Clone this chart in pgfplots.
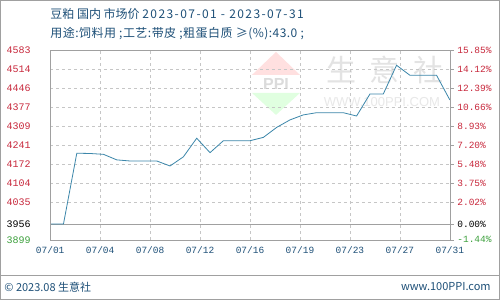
\documentclass[border=0pt]{standalone}
\usepackage{fontspec}
\setmainfont{Liberation Sans}
\newfontfamily\cjk{Noto Sans CJK SC}
\newfontfamily\cjkw[LetterSpace=12]{Noto Sans CJK SC}
\newfontfamily\cjkv[LetterSpace=4]{Noto Sans CJK SC}
\newfontfamily\mono{Liberation Mono}
\usepackage{pgfplots}
\pgfplotsset{compat=1.18}
\definecolor{tred}{RGB}{200,40,60}
\definecolor{tgreen}{RGB}{60,160,60}
\definecolor{tblue}{RGB}{30,80,120}
\definecolor{lineblue}{RGB}{60,135,170}
\definecolor{frame}{RGB}{160,160,160}
\begin{document}
\begin{tikzpicture}
\fill[white] (0pt,0pt) rectangle (500pt,300pt);
\draw[frame] (0.5pt,0.5pt) rectangle (499.5pt,299.5pt);
\draw[frame] (0pt,25pt) -- (500pt,25pt);
% title
\node[anchor=west,inner sep=0,text=tblue,font=\cjk\fontsize{12}{14}\selectfont] at (50pt,286pt) {豆粕 国内 市场价 {\cjkw 2023-07-01 - 2023-07-31}};
\node[anchor=west,inner sep=0,text=tblue,font=\cjkv\fontsize{12}{14}\selectfont] at (50pt,266pt) {用途:饲料用 ;工艺:带皮 ;粗蛋白质 ≥(\%):43.0 ;};
% footer
\node[anchor=west,inner sep=0,text=tblue,font=\cjk\fontsize{11}{13}\selectfont] at (4pt,13pt) {© 2023.08 生意社};
\node[anchor=east,inner sep=0,text=tblue,font=\cjk\fontsize{11}{13}\selectfont] at (491pt,13pt) {www.100PPI.com};
% watermark
\fill[red!12] (252pt,225pt) -- (276pt,248pt) -- (300pt,225pt) -- cycle;
\fill[green!12] (252pt,207pt) -- (300pt,207pt) -- (276pt,185pt) -- cycle;
\node[anchor=center,inner sep=0,text=gray!28,font=\bfseries\fontsize{16}{18}\selectfont] at (276pt,216pt) {PPI};
\node[anchor=center,inner sep=0,text=gray!22,font=\cjk\fontsize{30}{32}\selectfont] at (385pt,230pt) {生\ \ 意\ \ 社};
\node[anchor=center,inner sep=0,text=gray!18,font=\fontsize{13}{15}\selectfont] at (382pt,198pt) {WWW.100PPI.COM};
\begin{axis}[
  at={(50pt,60pt)}, anchor=south west,
  width=400pt, height=190pt, scale only axis,
  xmin=1, xmax=31, ymin=3899, ymax=4583,
  axis line style={frame},
  xtick={1,4.75,8.5,12.25,16,19.75,23.5,27.25,31},
  xticklabels={07/01,07/04,07/08,07/12,07/16,07/19,07/23,07/27,07/31},
  xticklabel style={text=tblue,font=\mono\fontsize{9.5}{11}\selectfont,yshift=-3pt},
  ytick={3899,3956,4035,4104,4172,4241,4309,4377,4446,4514,4583},
  yticklabels={\textcolor{tgreen}{3899},\textcolor{black}{3956},\textcolor{tred}{4035},\textcolor{tred}{4104},\textcolor{tred}{4172},\textcolor{tred}{4241},\textcolor{tred}{4309},\textcolor{tred}{4377},\textcolor{tred}{4446},\textcolor{tred}{4514},\textcolor{tred}{4583}},
  yticklabel style={anchor=west,xshift=-47pt,font=\mono\fontsize{10}{12}\selectfont},
  major tick length=0pt,
  grid=major,
  grid style={dashed,gray!45,line width=0.5pt},
  axis y line*=left,
  axis x line*=bottom,
  clip=true,
]
\addplot[frame,line width=0.8pt,forget plot] coordinates {(1,3956) (31,3956)};
\addplot[lineblue,line width=0.8pt,mark=none] coordinates {
(1,3956) (2,3956) (3,4211) (4,4210) (5,4207) (6,4187) (7,4183) (8,4183)
(9,4183) (10,4165) (11,4198) (12,4265) (13,4213) (14,4256) (15,4256) (16,4256)
(17,4268) (18,4304) (19,4331) (20,4349) (21,4357) (22,4357) (23,4357) (24,4345)
(25,4424) (26,4424) (27,4528) (28,4492) (29,4492) (30,4492) (31,4403)};
\end{axis}
\begin{axis}[
  at={(50pt,60pt)}, anchor=south west,
  width=400pt, height=190pt, scale only axis,
  xmin=1, xmax=31, ymin=3899, ymax=4583,
  axis x line=none,
  axis y line*=right,
  axis line style={frame},
  ytick={3899,3956,4035,4104,4172,4241,4309,4377,4446,4514,4583},
  yticklabels={\textcolor{tgreen}{-1.44\%},\textcolor{black}{0.00\%},\textcolor{tred}{2.02\%},\textcolor{tred}{3.75\%},\textcolor{tred}{5.48\%},\textcolor{tred}{7.20\%},\textcolor{tred}{8.93\%},\textcolor{tred}{10.66\%},\textcolor{tred}{12.39\%},\textcolor{tred}{14.12\%},\textcolor{tred}{15.85\%}},
  yticklabel style={anchor=west,font=\mono\fontsize{9.5}{11}\selectfont},
  ytick style={frame},
  major tick length=4pt,
  tick align=outside,
]
\addplot[draw=none] coordinates {(1,3956)};
\end{axis}
\draw[frame] (50pt,60pt) rectangle (450pt,250pt);
\end{tikzpicture}
\end{document}
